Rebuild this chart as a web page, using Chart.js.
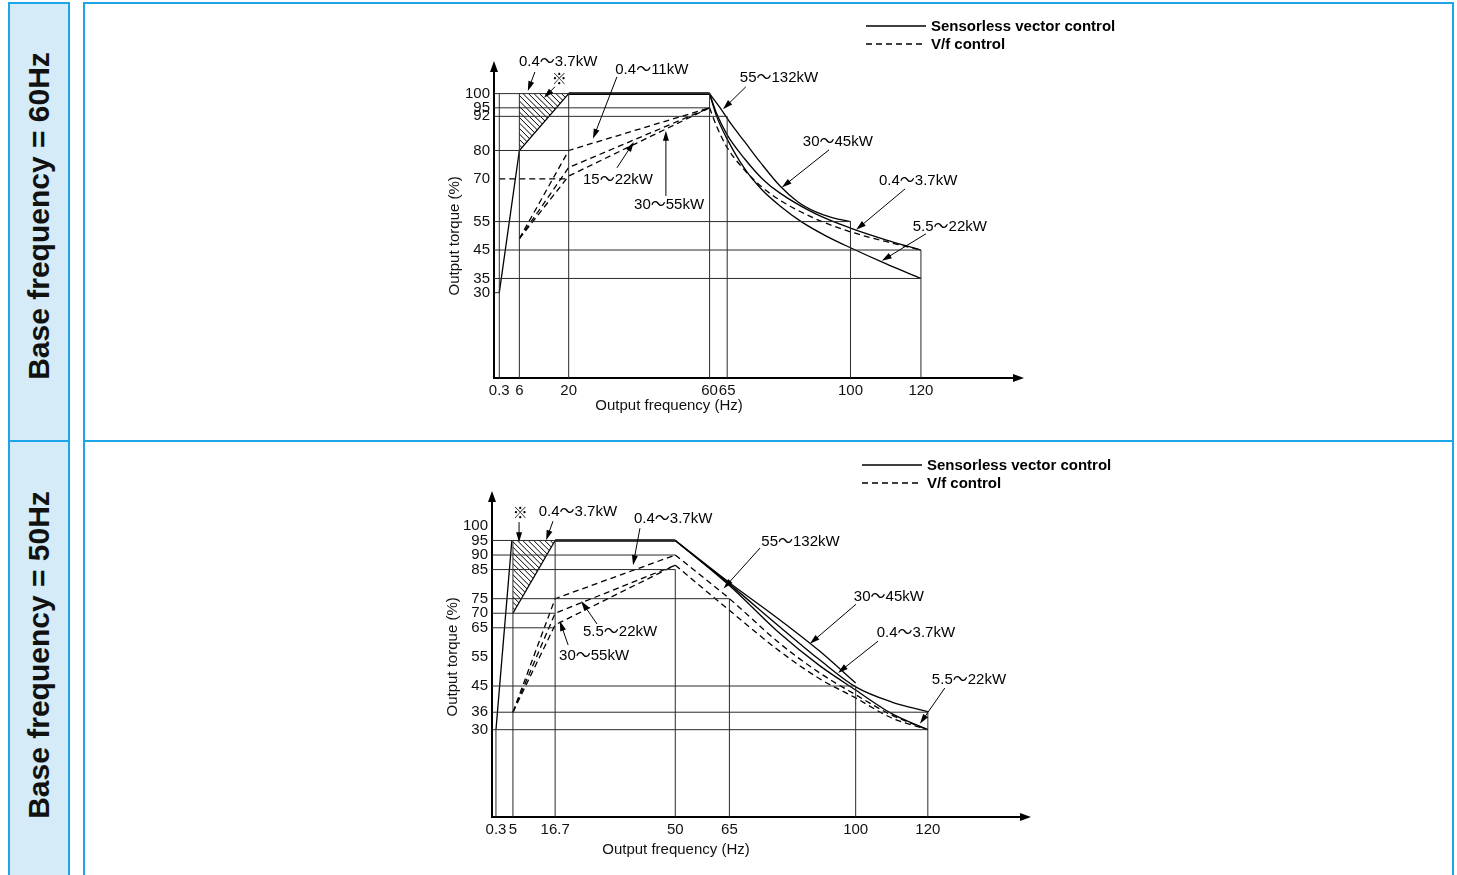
<!DOCTYPE html>
<html lang="en">
<head>
<meta charset="UTF-8" />
<title>Output torque characteristics</title>
<script src="https://cdn.jsdelivr.net/npm/chart.js"></script>
<style>
  body { margin: 0; width: 1457px; height: 875px; overflow: hidden; background: #fff; position: relative; }
  .side { position: absolute; left: 8px; width: 62px; box-sizing: border-box; background: #d5ebf8; border: 2px solid #1ea4e9; }
  .side span { position: absolute; left: 50%; top: 50%; transform: translate(-50%, -50%) rotate(-90deg);
    white-space: nowrap; font: bold 30px Arial, "Liberation Sans", sans-serif; color: #111; }
  .panel { position: absolute; left: 83px; width: 1371px; box-sizing: border-box; border: 2px solid #1ea4e9; }
  canvas { position: absolute; left: 85px; }
</style>
</head>
<body>
<div class="side" style="top:2px;height:440px"><span style="margin-top:-6px">Base frequency = 60Hz</span></div>
<div class="side" style="top:440px;height:440px"><span style="margin-top:-5px">Base frequency = 50Hz</span></div>
<div class="panel" style="top:2px;height:440px"></div>
<div class="panel" style="top:440px;height:440px"></div>
<canvas id="base60" width="1366" height="436" style="top:4px"></canvas>
<canvas id="base50" width="1366" height="433" style="top:442px"></canvas>
<script>
const FONT = 'Arial, "Liberation Sans", "Noto Sans CJK JP", sans-serif';

// ---------- base frequency 60Hz ----------
const xTicks60 = [0.3, 6, 20, 60, 65, 100, 120];
const yTicks60 = [30, 35, 45, 55, 70, 80, 92, 95, 100];
// [torque, frequency where the line stops]
const hLines60 = [[100, 60], [95, 60], [92, 65], [80, 20], [55, 100], [45, 120], [35, 120], [30, 0.3]];
// [frequency, torque where the line stops]
const vLines60 = [[0.3, 100], [6, 100], [20, 100], [60, 100], [65, 92], [100, 55], [120, 45]];
const hatch60 = [[6, 80], [6, 100], [20, 100]];
const svcLow60 = [[0.3, 30], [6, 80], [20, 100]];
const svcFlat60 = [[20, 100], [60, 100]];
const svc30to45_60 = [[60, 100], [63, 95], [66, 89.5], [70, 83], [74.3, 76], [80, 67.5], [85, 62], [90, 58.5], [95, 56.3], [100, 55]];
const svc04to37_60 = [[60, 100], [62, 93], [65, 85.5], [70, 77], [75, 70], [80, 65], [90, 57.8], [100, 52.7], [110, 48.6], [120, 45]];
const svc55to22_60 = [[60, 100], [62, 92], [65, 84], [70, 73.5], [75, 66], [80, 60.5], [86, 55], [93, 50], [100, 45.8], [110, 40.2], [120, 35]];
const vfFlat60 = [[0.3, 70], [19, 70]];
const vf04to11_60 = [[6, 49], [20, 80], [60, 95]];
const vf15to22_60 = [[6, 49], [20, 74], [60, 95]];
const vf30to55_60 = [[6, 49], [20, 71], [60, 95]];
const vfDown60 = [[60, 95], [62, 88.5], [65, 81], [70, 73], [75, 67], [80, 62.5], [90, 56], [100, 51.4], [110, 48], [120, 45]];
const notes60 = [
  { text: '0.4〜3.7kW', at: [17, 111], from: [10.4, 107.6], to: [8.4, 100.9] },
  { text: '※', at: [17.3, 104.8], from: [16.1, 102.4], to: [13, 98.5] },
  { text: '0.4〜11kW', at: [43.6, 108.3], from: [33.7, 105.9], to: [26.9, 84.1] },
  { text: '55〜132kW', at: [79.7, 105.5], from: [70.3, 102.4], to: [63.8, 94.5] },
  { text: '15〜22kW', at: [34, 69.6], from: [33.7, 73.9], to: [38.5, 83] },
  { text: '30〜55kW', at: [48.5, 60.9], from: [47.6, 64], to: [47.6, 86.9] },
  { text: '30〜45kW', at: [96.4, 83], from: [93.9, 80.2], to: [80.5, 67] },
  { text: '0.4〜3.7kW', at: [119.2, 69.3], from: [115.5, 66.5], to: [101.6, 52.1] },
  { text: '5.5〜22kW', at: [128.2, 53.1], from: [121.4, 50.7], to: [108.9, 41.2] }
];

// ---------- base frequency 50Hz ----------
const xTicks50 = [0.3, 5, 16.7, 50, 65, 100, 120];
const yTicks50 = [30, 36, 45, 55, 65, 70, 75, 85, 90, 95, 100];
const hLines50 = [[95, 50], [90, 50], [85, 50], [75, 65], [70, 16.7], [65, 16.7], [45, 100], [36, 120], [30, 120]];
const vLines50 = [[0.3, 30], [5, 95], [16.7, 95], [50, 85], [65, 75], [100, 45], [120, 36]];
const hatch50 = [[5, 70], [5, 95], [16.7, 95]];
const svcLow50 = [[0.3, 30], [4.7, 95]];
const svcEdge50 = [[5, 70], [16.7, 95]];
const svcFlat50 = [[16.7, 95], [50, 95]];
const svc30to45_50 = [[50, 95], [65, 80.5], [79, 67.7], [90, 57], [100, 46]];
const svc04to37_50 = [[50, 95], [65, 80], [79, 65.3], [90, 54], [100, 44.7], [110, 39.5], [120, 36.2]];
const svc55to22_50 = [[50, 95], [65, 79.5], [79, 63], [90, 52], [100, 43.6], [110, 35.5], [120, 30]];
const vf04to37_50 = [[5, 36], [16.7, 75], [50, 90]];
const vf55to22_50 = [[5, 36], [16.7, 70], [50, 86.5]];
const vf30to55_50 = [[5, 36], [16.7, 66], [50, 86.5]];
const vfDownA50 = [[50, 90], [65, 75], [79, 59.6], [90, 49.5], [100, 42], [110, 35], [120, 30]];
const vfDownB50 = [[50, 86.5], [65, 71], [79, 56.9], [90, 47.5], [100, 40.9], [110, 34], [120, 30]];
const notes50 = [
  { text: '※', at: [7, 104], from: [6.7, 101.3], to: [6.7, 94.4] },
  { text: '0.4〜3.7kW', at: [23, 104.7], from: [16.1, 101.6], to: [14.2, 95.1] },
  { text: '0.4〜3.7kW', at: [49.4, 102.3], from: [40.2, 99.2], to: [38.3, 86.5] },
  { text: '55〜132kW', at: [84.7, 94.4], from: [73.5, 92.4], to: [63.4, 78.5] },
  { text: '5.5〜22kW', at: [34.7, 63.5], from: [28.3, 66.3], to: [23.9, 74.2] },
  { text: '30〜55kW', at: [27.5, 55.3], from: [20.3, 59.1], to: [18, 67.3] },
  { text: '30〜45kW', at: [109.2, 75.5], from: [100.1, 73.1], to: [87.3, 59.5] },
  { text: '0.4〜3.7kW', at: [116.7, 63.2], from: [106.2, 60.4], to: [95.1, 49.5] },
  { text: '5.5〜22kW', at: [131.4, 47], from: [124.7, 44.3], to: [117.8, 32] }
];

const thin = { borderColor: '#2a2a2a', borderWidth: 1 };
const solid = { borderWidth: 1.3 };
const curve = { borderWidth: 1.3, tension: 0.4, cubicInterpolationMode: 'monotone' };
const bold = { borderWidth: 2.6 };
const dash = { borderWidth: 1.3, borderDash: [6, 4] };
const dashCurve = Object.assign({}, curve, { borderDash: [6, 4] });

function arrow(ctx, x0, y0, x1, y1) {
  const ang = Math.atan2(y1 - y0, x1 - x0), len = 10, w = 3;
  ctx.beginPath();
  ctx.moveTo(x0, y0);
  ctx.lineTo(x1 - Math.cos(ang) * len * 0.6, y1 - Math.sin(ang) * len * 0.6);
  ctx.stroke();
  ctx.beginPath();
  ctx.moveTo(x1, y1);
  ctx.lineTo(x1 - Math.cos(ang) * len + Math.sin(ang) * w, y1 - Math.sin(ang) * len - Math.cos(ang) * w);
  ctx.lineTo(x1 - Math.cos(ang) * len - Math.sin(ang) * w, y1 - Math.sin(ang) * len + Math.cos(ang) * w);
  ctx.closePath();
  ctx.fill();
}

const extras = {
  id: 'extras',
  beforeDatasetsDraw(chart, args, o) {
    const { ctx, scales: { x, y } } = chart;
    const pts = o.hatch.map(([f, v]) => [x.getPixelForValue(f), y.getPixelForValue(v)]);
    const xs = pts.map(p => p[0]), ys = pts.map(p => p[1]);
    const x0 = Math.min(...xs), x1 = Math.max(...xs), y0 = Math.min(...ys), y1 = Math.max(...ys);
    ctx.save();
    ctx.beginPath();
    pts.forEach(([px, py], i) => i ? ctx.lineTo(px, py) : ctx.moveTo(px, py));
    ctx.closePath();
    ctx.clip();
    ctx.strokeStyle = '#000';
    ctx.lineWidth = 1;
    ctx.beginPath();
    for (let c = x0 - (y1 - y0); c < x1; c += 5.5) {
      ctx.moveTo(c, y0);
      ctx.lineTo(c + (y1 - y0), y1);
    }
    ctx.stroke();
    ctx.restore();
  },
  afterDatasetsDraw(chart, args, o) {
    const { ctx, chartArea: a, scales: { x, y } } = chart;
    const px = f => x.getPixelForValue(f), py = v => y.getPixelForValue(v);
    ctx.save();
    ctx.fillStyle = '#000';
    ctx.strokeStyle = '#000';
    // axis arrowheads
    ctx.beginPath();
    ctx.moveTo(a.right + 9, a.bottom);
    ctx.lineTo(a.right - 2, a.bottom - 4);
    ctx.lineTo(a.right - 2, a.bottom + 4);
    ctx.closePath();
    ctx.moveTo(a.left, a.top - 9);
    ctx.lineTo(a.left - 4, a.top + 2);
    ctx.lineTo(a.left + 4, a.top + 2);
    ctx.closePath();
    ctx.fill();

    // callouts
    ctx.lineWidth = 1;
    ctx.font = '15px ' + FONT;
    ctx.textAlign = 'center';
    ctx.textBaseline = 'middle';
    o.notes.forEach(n => {
      ctx.fillText(n.text, px(n.at[0]), py(n.at[1]));
      arrow(ctx, px(n.from[0]), py(n.from[1]), px(n.to[0]), py(n.to[1]));
    });

    // axis titles
    ctx.fillStyle = '#111';
    ctx.fillText('Output frequency (Hz)', px(o.xTitleAt), a.bottom + o.xTitleGap);
    ctx.save();
    ctx.translate(a.left - 39, py(o.yTitleAt));
    ctx.rotate(-Math.PI / 2);
    ctx.fillText('Output torque (%)', 0, 0);
    ctx.restore();

    // legend
    const lx = o.legend[0], ly = o.legend[1];
    ctx.lineWidth = 1.4;
    ctx.beginPath();
    ctx.moveTo(lx, ly);
    ctx.lineTo(lx + 60, ly);
    ctx.stroke();
    ctx.setLineDash([6, 4]);
    ctx.beginPath();
    ctx.moveTo(lx, ly + 18);
    ctx.lineTo(lx + 60, ly + 18);
    ctx.stroke();
    ctx.setLineDash([]);
    ctx.font = 'bold 15px ' + FONT;
    ctx.textAlign = 'left';
    ctx.fillStyle = '#000';
    ctx.fillText('Sensorless vector control', lx + 65, ly + 1);
    ctx.fillText('V/f control', lx + 65, ly + 19);
    ctx.restore();
  }
};

function makeChart(id, c) {
  const datasets = [];
  const add = (pts, style) => datasets.push(Object.assign({
    data: pts.map(([x, y]) => ({ x, y })),
    borderColor: '#000', borderWidth: 1.2, pointRadius: 0, fill: false, tension: 0, clip: false
  }, style));
  c.hLines.forEach(([v, to]) => add([[c.xMin, v], [to, v]], thin));
  c.vLines.forEach(([f, to]) => add([[f, 0], [f, to]], thin));
  c.solid.forEach(s => add(s, solid));
  c.bold.forEach(s => add(s, bold));
  c.curves.forEach(s => add(s, curve));
  c.dashed.forEach(s => add(s, dash));
  c.dashedCurves.forEach(s => add(s, dashCurve));

  const tickFont = { size: 15, family: FONT };
  return new Chart(document.getElementById(id), {
    type: 'line',
    data: { datasets },
    plugins: [extras],
    options: {
      responsive: false,
      animation: false,
      layout: { padding: c.padding },
      plugins: {
        legend: { display: false },
        tooltip: { enabled: false },
        extras: { hatch: c.hatch, notes: c.notes, xTitleAt: c.xTitleAt, xTitleGap: c.xTitleGap, yTitleAt: c.yTitleAt, legend: c.legend }
      },
      scales: {
        x: {
          type: 'linear', min: c.xMin, max: c.xMax,
          afterBuildTicks: s => { s.ticks = c.xTicks.map(v => ({ value: v })); },
          afterFit: s => { s.height = 30; },
          ticks: { autoSkip: false, maxRotation: 0, minRotation: 0, padding: 4, color: '#111', font: tickFont, callback: v => String(v) },
          grid: { display: false, drawTicks: false },
          border: { display: true, color: '#000', width: 2 }
        },
        y: {
          type: 'linear', min: 0, max: c.yMax,
          afterBuildTicks: s => { s.ticks = c.yTicks.map(v => ({ value: v })); },
          afterFit: s => { s.width = 40; },
          ticks: { autoSkip: false, padding: 4, color: '#111', font: tickFont, callback: v => String(v) },
          grid: { display: false, drawTicks: false },
          border: { display: true, color: '#000', width: 2 }
        }
      }
    }
  });
}

makeChart('base60', {
  xMin: -1.2, xMax: 146.7, yMax: 108.3,
  padding: { left: 369, right: 436, top: 66, bottom: 32 },
  xTicks: xTicks60, yTicks: yTicks60, hLines: hLines60, vLines: vLines60,
  hatch: hatch60,
  solid: [svcLow60],
  bold: [svcFlat60],
  curves: [svc30to45_60, svc04to37_60, svc55to22_60],
  dashed: [vfFlat60, vf04to11_60, vf15to22_60, vf30to55_60],
  dashedCurves: [vfDown60],
  notes: notes60, xTitleAt: 48.5, xTitleGap: 28, yTitleAt: 50, legend: [781, 22]
});

makeChart('base50', {
  xMin: -0.8, xMax: 146.1, yMax: 108.9,
  padding: { left: 367, right: 429, top: 58, bottom: 28 },
  xTicks: xTicks50, yTicks: yTicks50, hLines: hLines50, vLines: vLines50,
  hatch: hatch50,
  solid: [svcLow50, svcEdge50],
  bold: [svcFlat50],
  curves: [svc30to45_50, svc04to37_50, svc55to22_50],
  dashed: [vf04to37_50, vf55to22_50, vf30to55_50],
  dashedCurves: [vfDownA50, vfDownB50],
  notes: notes50, xTitleAt: 50.2, xTitleGap: 33, yTitleAt: 55, legend: [777, 23]
});
</script>
</body>
</html>
